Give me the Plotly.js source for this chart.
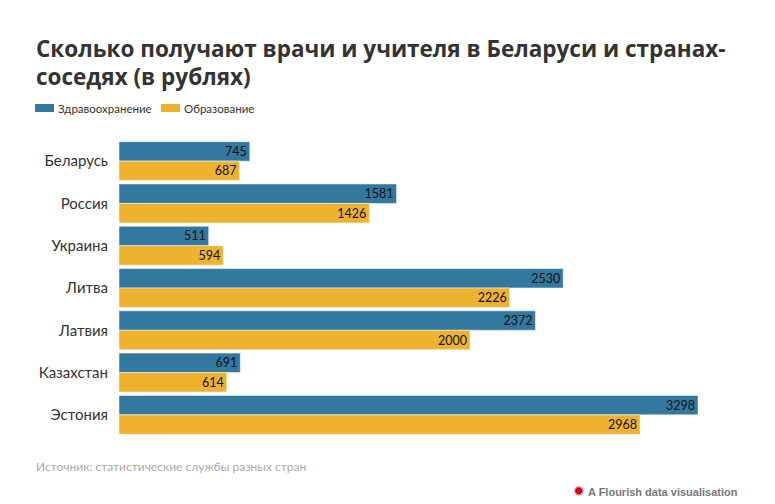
<!DOCTYPE html>
<html><head><meta charset="utf-8">
<script src="https://cdn.plot.ly/plotly-3.0.1.min.js"></script>
<style>html,body{margin:0;padding:0;background:#fff}#c{width:775px;height:504px}</style>
</head><body><div id="c"></div>
<script>
const countries = ["Беларусь","Россия","Украина","Литва","Латвия","Казахстан","Эстония"];
const health = [745,1581,511,2530,2372,691,3298];
const education = [687,1426,594,2226,2000,614,2968];
const seriesNames = ["Здравоохранение","Образование"];
const colors = ["#33789f","#eeb22f"];

const font = "Lato, 'Source Sans Pro', 'Noto Sans', sans-serif";
const titleFont = "'Open Sans', 'Noto Sans', sans-serif";
function tr(vals, i){
  return {type:"bar", orientation:"h", y:countries, x:vals, name:seriesNames[i],
    marker:{color:colors[i], line:{color:"#ffffff", width:0.5}},
    text:vals.map(String), textposition:"inside", insidetextanchor:"end",
    textfont:{family:font, size:12.5, color:"#111"}, constraintext:"none",
    hoverinfo:"x+y"};
}
const data = [tr(health,0), tr(education,1)];
const P = 296; // plot height px
const py = y => (504-68-y)/P;
const px = x => (x-119)/579;
const layout = {
  width:775, height:504, paper_bgcolor:"#fff", plot_bgcolor:"#fff",
  margin:{l:119, r:77, t:140, b:68},
  barmode:"group", bargap:0.08, bargroupgap:0,
  showlegend:false,
  font:{family:font, color:"#333"},
  xaxis:{range:[0,3298], showgrid:false, zeroline:false, showticklabels:false, showline:false, fixedrange:true},
  yaxis:{autorange:"reversed", showgrid:false, zeroline:false, showline:false, ticks:"",
    ticklabelstandoff:10, tickfont:{family:font, size:15, color:"#333"}, fixedrange:true},
  shapes:[
    {type:"rect", xref:"paper", yref:"paper", x0:px(35), x1:px(54), y0:py(104), y1:py(112), fillcolor:colors[0], line:{width:0}},
    {type:"rect", xref:"paper", yref:"paper", x0:px(161), x1:px(180), y0:py(104), y1:py(112), fillcolor:colors[1], line:{width:0}}
  ],
  annotations:[
    {text:"<b>Сколько получают врачи и учителя в Беларуси и странах-</b>", xref:"paper", yref:"paper", x:px(34), y:py(48), xanchor:"left", yanchor:"middle", showarrow:false, font:{family:titleFont, size:22.5, color:"#333"}},
    {text:"<b>соседях (в рублях)</b>", xref:"paper", yref:"paper", x:px(34), y:py(76), xanchor:"left", yanchor:"middle", showarrow:false, font:{family:titleFont, size:22.5, color:"#333"}},
    {text:seriesNames[0], xref:"paper", yref:"paper", x:px(56), y:py(108), xanchor:"left", yanchor:"middle", showarrow:false, font:{family:font, size:11.5, color:"#333"}},
    {text:seriesNames[1], xref:"paper", yref:"paper", x:px(182), y:py(108), xanchor:"left", yanchor:"middle", showarrow:false, font:{family:font, size:11.5, color:"#333"}},
    {text:"Источник: статистические службы разных стран", xref:"paper", yref:"paper", x:px(34), y:py(466), xanchor:"left", yanchor:"middle", showarrow:false, font:{family:font, size:12, color:"#aaaaaa"}},
    {text:"<span style='color:#d0021b;font-size:14px'>✹</span> <b>A Flourish data visualisation</b>", xref:"paper", yref:"paper", x:px(740), y:py(491), xanchor:"right", yanchor:"middle", showarrow:false, font:{family:"Arial, 'Liberation Sans', sans-serif", size:11, color:"#777"}}
  ]
};
Plotly.newPlot("c", data, layout, {displayModeBar:false});
</script></body></html>
